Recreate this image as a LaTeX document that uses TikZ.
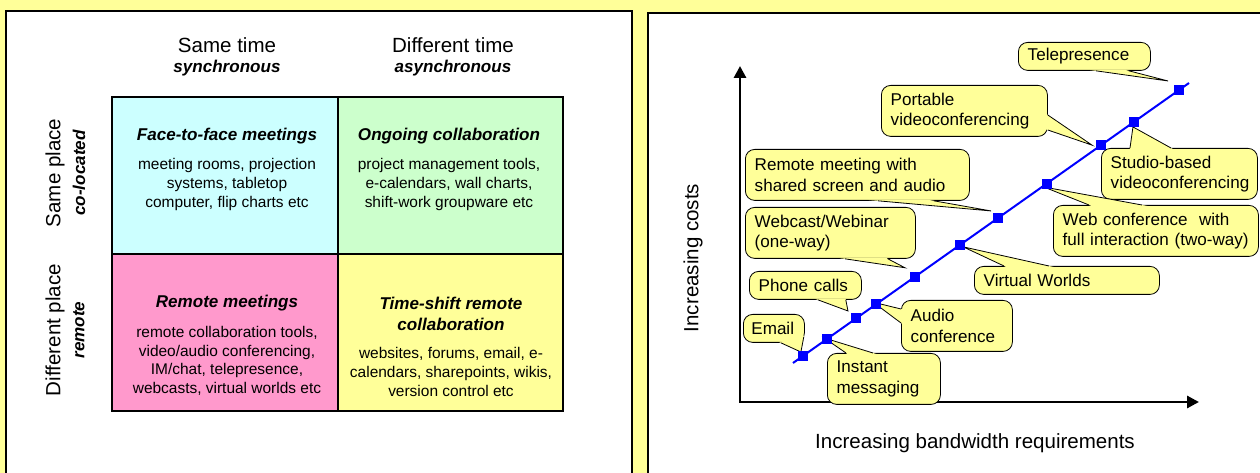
\documentclass[tikz,border=0pt]{standalone}
\usepackage{fontspec}
\setmainfont{Liberation Sans}
\usetikzlibrary{arrows.meta,calc}
\definecolor{paleyellow}{HTML}{FFFF99}
\definecolor{palecyan}{HTML}{CCFFFF}
\definecolor{palegreen}{HTML}{CCFFCC}
\definecolor{palepink}{HTML}{FF99CC}
% pointer of a speech bubble: base point, tip, base point
\newcommand{\callwedge}[3]{%
  \coordinate (wa) at (#1);
  \coordinate (wt) at (#2);
  \coordinate (wb) at (#3);
  \fill[paleyellow] ($(wt)!1.08!(wa)$) -- (wt) -- ($(wt)!1.08!(wb)$) -- cycle;
  \draw[line width=0.6pt] (wa) -- (wt) -- (wb);}
\begin{document}
\begin{tikzpicture}[x=0.75pt, y=-0.75pt, >={Triangle[length=9pt,width=9pt]},
  cell/.style={draw, line width=0.8pt},
  heading/.style={font=\fontsize{15.4}{18}\selectfont},
  subheading/.style={font=\fontsize{12.8}{15}\selectfont\bfseries\itshape},
  celltitle/.style={align=center, font=\fontsize{12.8}{15.8}\selectfont\bfseries\itshape},
  cellbody/.style={align=center, font=\fontsize{11.6}{13.9}\selectfont},
  bubble/.style={draw, fill=paleyellow, line width=0.6pt, rounded corners=7pt, anchor=north west,
    align=left, inner xsep=7pt, inner ysep=0pt, font=\fontsize{12.8}{15.4}\selectfont},
  oneline/.style={minimum height=21pt},
  twoline/.style={minimum height=38.25pt},
  bw/.style={fill=blue, minimum size=7.5pt, inner sep=0pt}]
\fill[paleyellow] (0,0) rectangle (1260,473);
\useasboundingbox (0,0) rectangle (1260,473);

% left panel: time / place matrix
\fill[white] (6,11) rectangle (632,478);
\draw[line width=1.9pt] (6,478) -- (6,11) -- (632,11) -- (632,478);
\node[heading] (sametime) at (227,45) {Same time};
\node[subheading] (sync) at (227,68) {synchronous};
\node[heading] (difftime) at (453,45) {Different time};
\node[subheading] (async) at (453,68) {asynchronous};
\node[heading, rotate=90] (sameplace) at (55,173) {Same place};
\node[subheading, rotate=90] (coloc) at (79,173) {co-located};
\node[heading, rotate=90] (diffplace) at (55,330) {Different place};
\node[subheading, rotate=90] (remotelbl) at (79,330) {remote};

\filldraw[cell, fill=palecyan] (112,97) rectangle (338,254);
\filldraw[cell, fill=palegreen] (338,97) rectangle (563,254);
\filldraw[cell, fill=palepink] (112,254) rectangle (338,411);
\filldraw[cell, fill=paleyellow] (338,254) rectangle (563,411);

\node[celltitle] (facetitle) at (227,136) {Face-to-face meetings};
\node[cellbody] (facebody) at (227,184.5) {meeting rooms, projection\\systems, tabletop\\computer, flip charts etc};
\node[celltitle] (ongoingtitle) at (449,136) {Ongoing collaboration};
\node[cellbody] (ongoingbody) at (449,184.5) {project management tools,\\e-calendars, wall charts,\\shift-work groupware etc};
\node[celltitle] (remotetitle) at (227,303) {Remote meetings};
\node[cellbody] (remotebody) at (227,361) {remote collaboration tools,\\video/audio conferencing,\\IM/chat, telepresence,\\webcasts, virtual worlds etc};
\node[celltitle] (shifttitle) at (451,313.5) {Time-shift remote\\collaboration};
\node[cellbody] (shiftbody) at (451,372) {websites, forums, email, e-\\calendars, sharepoints, wikis,\\version control etc};

% right panel: cost against bandwidth
\fill[white] (648,13) rectangle (1265,478);
\draw[line width=1.9pt] (648,478) -- (648,13) -- (1265,13);
\coordinate (origin) at (740,402);
\draw[<->, line width=2.2pt] (740,66) -- (origin) -- (1199,402);
\node[heading, rotate=90] (costs) at (693,258) {Increasing costs};
\node[heading] (bandwidth) at (975,443) {Increasing bandwidth requirements};

\coordinate (lo) at (793,363);
\coordinate (hi) at (1189,83);
\foreach \p [count=\i] in {0.025,0.086,0.159,0.210,0.308,0.422,0.518,0.641,0.778,0.861,0.975}
  \coordinate (p\i) at ($(lo)!\p!(hi)$);

\node[bubble, oneline, text width=33.75pt, inner xsep=6pt] (email) at (743,314) {Email};
\node[bubble, twoline, text width=70.75pt] (instant) at (827,353) {Instant\\messaging};
\node[bubble, oneline, text width=70pt] (phone) at (749,271) {Phone calls};
\node[bubble, twoline, text width=69.25pt] (audio) at (901,300) {Audio\\conference};
\node[bubble, twoline, text width=113.5pt] (webcast) at (745,207) {Webcast/Webinar\\(one-way)};
\node[bubble, oneline, text width=124.75pt] (virtual) at (974,266) {Virtual Worlds};
\node[bubble, twoline, text width=154pt] (remotemeet) at (745,149) {Remote meeting with\\shared screen and audio};
\node[bubble, twoline, text width=139.75pt] (webconf) at (1053,205) {Web conference\ \ with\\full~interaction~(two-way)};
\node[bubble, twoline, text width=110.5pt] (portable) at (881,85) {Portable\\videoconferencing};
\node[bubble, twoline, text width=103pt] (studio) at (1101,148) {Studio-based\\videoconferencing};
\node[bubble, oneline, text width=85pt] (telepresence) at (1018,42) {Telepresence};

\callwedge{$(email.south east)+(-24,0)$}{$(p1)+(-2,-4)$}{$(email.south east)+(-1,-6)$}
\callwedge{$(instant.north west)+(19,0)$}{$(p2)+(-3,-1)$}{$(instant.north west)+(46,0)$}
\callwedge{$(phone.south east)+(-44,0)$}{$(p3)+(-8,-7.5)$}{$(phone.south east)+(-16,0)$}
\callwedge{$(audio.north west)+(0,9)$}{$(p4)+(-3,-2)$}{$(audio.north west)+(0,23)$}
\callwedge{$(webcast.south east)+(-71,0)$}{$(p5)+(-10,-9)$}{$(webcast.south east)+(-28,0)$}
\callwedge{$(virtual.north west)+(30,0)$}{$(p6)+(3,2)$}{$(virtual.north west)+(75,0)$}
\callwedge{$(remotemeet.south east)+(-92,0)$}{$(p7)+(-7,-7)$}{$(remotemeet.south east)+(-36,0)$}
\callwedge{$(webconf.north west)+(36,0)$}{$(p8)+(-3,3.5)$}{$(webconf.north west)+(89,0)$}
\callwedge{$(portable.north east)+(0,30)$}{$(p9)+(-9,0)$}{$(portable.north east)+(0,45)$}
\callwedge{$(studio.north west)+(29,0)$}{$(p10)+(-1,5)$}{$(studio.north west)+(70,0)$}
\callwedge{$(telepresence.south east)+(-55,0)$}{$(p11)+(-11,-9)$}{$(telepresence.south east)+(-22,0)$}

\draw[blue, line width=1.5pt] (lo) -- (hi);
\foreach \i in {1,...,11}
  \node[bw] (m\i) at (p\i) {};
\end{tikzpicture}
\end{document}
